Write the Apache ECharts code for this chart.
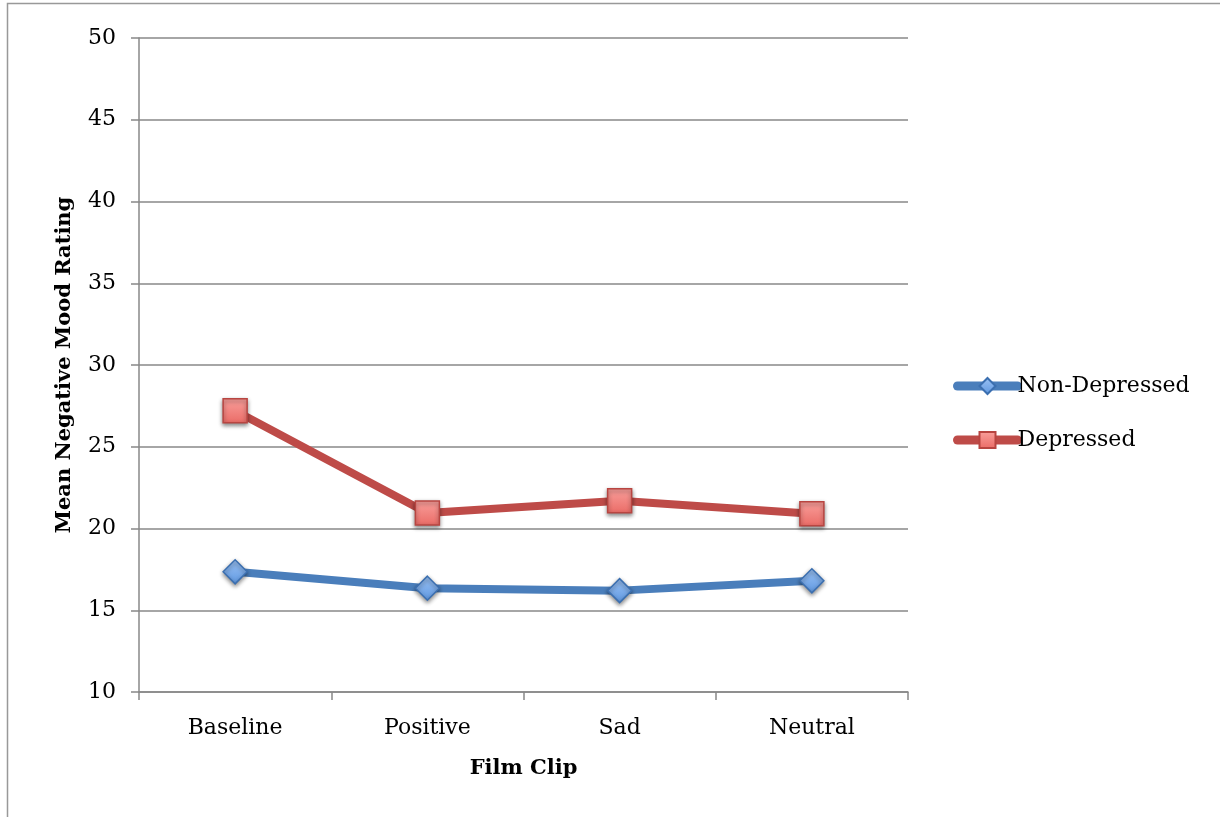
<!DOCTYPE html>
<html><head><meta charset="utf-8">
<script src="https://cdn.jsdelivr.net/npm/echarts@6/dist/echarts.min.js"></script>
<style>html,body{margin:0;padding:0;background:#fff}#c{width:1220px;height:817px}</style>
</head><body><div id="c"></div>
<script>
const categories = ['Baseline', 'Positive', 'Sad', 'Neutral'];
const nonDepressed = [17.35, 16.35, 16.2, 16.8];
const depressed = [27.2, 20.95, 21.7, 20.9];
const yTicks = { min: 10, max: 50, interval: 5 };
const seriesNames = ['Non-Depressed', 'Depressed'];

const FONT = '"DejaVu Serif", serif';
const chart = echarts.init(document.getElementById('c'));
chart.setOption({
  animation: false,
  backgroundColor: '#fff',
  graphic: [{
    type: 'rect', shape: { x: 7.5, y: 3.5, width: 1300, height: 900 },
    style: { fill: 'none', stroke: '#999', lineWidth: 1.5 }, silent: true
  }],
  grid: { left: 139, right: 312, top: 38, bottom: 125, containLabel: false },
  legend: {
    orient: 'vertical', left: 953, top: 375, itemGap: 32, padding: 0,
    itemWidth: 60, itemHeight: 20,
    lineStyle: { width: 9, cap: 'round' },
    textStyle: { fontFamily: FONT, fontSize: 22, color: '#000', padding: [0,0,0,-5] },
    data: seriesNames
  },
  xAxis: {
    type: 'category', data: categories, boundaryGap: true,
    name: 'Film Clip', nameLocation: 'middle', nameGap: 66,
    nameTextStyle: { fontFamily: FONT, fontSize: 21, fontWeight: 'bold', color: '#000' },
    axisLine: { lineStyle: { color: '#888', width: 1.5 } },
    axisTick: { show: true, length: 8, lineStyle: { color: '#888', width: 1.5 } },
    axisLabel: { fontFamily: FONT, fontSize: 22, color: '#000', margin: 25 }
  },
  yAxis: {
    type: 'value', min: yTicks.min, max: yTicks.max, interval: yTicks.interval,
    name: 'Mean Negative Mood Rating', nameLocation: 'middle', nameGap: 64,
    nameTextStyle: { fontFamily: FONT, fontSize: 21, fontWeight: 'bold', color: '#000' },
    axisLine: { show: true, lineStyle: { color: '#888', width: 1.5 } },
    axisTick: { show: true, length: 8, lineStyle: { color: '#888', width: 1.5 } },
    splitLine: { lineStyle: { color: '#888', width: 1.5 } },
    axisLabel: { fontFamily: FONT, fontSize: 22, color: '#000', margin: 23, padding: [4, 0, 0, 0] }
  },
  series: [{
    name: seriesNames[0], type: 'line', data: nonDepressed,
    symbol: 'diamond', symbolSize: 24,
    lineStyle: { color: '#4a7ebb', width: 8 },
    itemStyle: {
      color: new echarts.graphic.LinearGradient(0, 0, 0, 1, [{ offset: 0, color: '#9cc3f5' }, { offset: 1, color: '#5e97e0' }]),
      borderColor: '#3b6fb0', borderWidth: 1.5,
      shadowBlur: 4, shadowColor: 'rgba(0,0,0,0.45)', shadowOffsetY: 2
    },
    color: '#4a7ebb'
  }, {
    name: seriesNames[1], type: 'line', data: depressed,
    symbol: 'rect', symbolSize: 24,
    lineStyle: { color: '#be4b48', width: 8 },
    itemStyle: {
      color: new echarts.graphic.LinearGradient(0, 0, 0, 1, [{ offset: 0, color: '#f9a09c' }, { offset: 1, color: '#ea6b66' }]),
      borderColor: '#b84541', borderWidth: 1.5,
      shadowBlur: 4, shadowColor: 'rgba(0,0,0,0.45)', shadowOffsetY: 2
    },
    color: '#be4b48'
  }]
});
</script></body></html>
